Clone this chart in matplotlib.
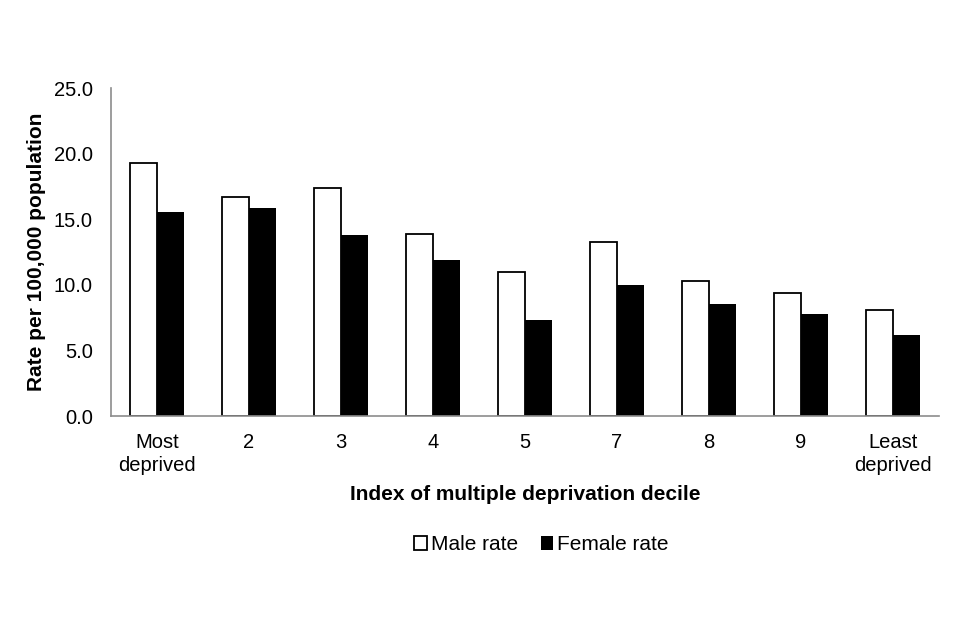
import numpy as np
import matplotlib
matplotlib.use("Agg")
import matplotlib.pyplot as plt

categories = ["Most\ndeprived", "2", "3", "4", "5", "7", "8", "9", "Least\ndeprived"]
male_rate = [19.3, 16.7, 17.4, 13.9, 11.0, 13.25, 10.3, 9.4, 8.05]
female_rate = [15.55, 15.85, 13.8, 11.9, 7.35, 9.95, 8.55, 7.75, 6.2]
y_ticks = [0, 5, 10, 15, 20, 25]

plt.rcParams["font.family"] = ["Liberation Sans", "DejaVu Sans"]

fig = plt.figure(figsize=(9.6, 6.4), dpi=100)
ax = fig.add_axes([0.1156, 0.35, 0.8625, 0.5125])

x = np.arange(len(categories))
w = 0.29
ax.bar(x - w / 2, male_rate, w, color="white", edgecolor="black", linewidth=1.3, label="Male rate")
ax.bar(x + w / 2, female_rate, w, color="black", edgecolor="black", linewidth=0, label="Female rate")

ax.set_xlim(-0.5, len(categories) - 0.5)
ax.set_ylim(0, 25)
ax.set_yticks(y_ticks)
ax.set_yticklabels([f"{t:.1f}" for t in y_ticks], fontsize=14.5)
ax.set_xticks(x)
ax.set_xticklabels(categories, fontsize=14.5, linespacing=1.3)
ax.tick_params(axis="y", length=0, pad=13)
ax.tick_params(axis="x", length=0, pad=12)

for side in ["top", "right"]:
    ax.spines[side].set_visible(False)
for side in ["left", "bottom"]:
    ax.spines[side].set_color("#8c8c8c")
    ax.spines[side].set_linewidth(1.2)

ax.set_ylabel("Rate per 100,000 population", fontsize=15, fontweight="bold", labelpad=6)
ax.set_xlabel("Index of multiple deprivation decile", fontsize=15, fontweight="bold", labelpad=7)

ax.legend(loc="center", bbox_to_anchor=(0.52, -0.393), ncol=2, frameon=False,
          fontsize=15, handlelength=0.6, handleheight=0.6, handletextpad=0.2, columnspacing=1.1)

fig.savefig("out.png", dpi=100, facecolor="white")
